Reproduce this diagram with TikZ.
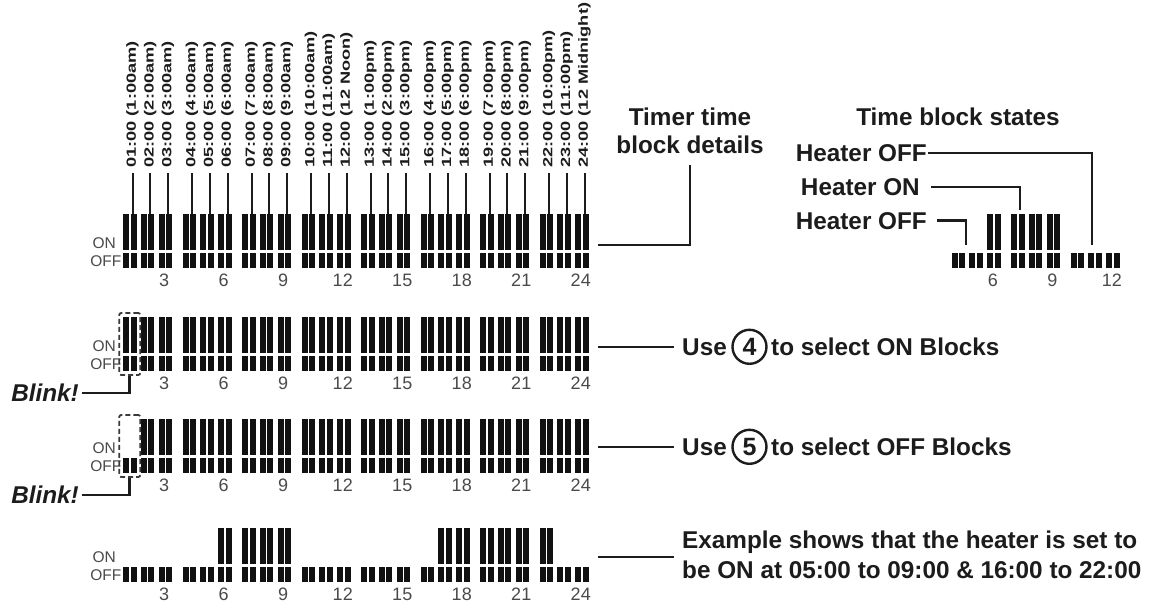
\documentclass[tikz,border=0pt]{standalone}
\usepackage{fontspec}
\setmainfont{Liberation Sans}
\usepackage{graphicx}
\usetikzlibrary{calc}
\definecolor{ink}{HTML}{1C1C1C}
\definecolor{barc}{HTML}{111111}
\definecolor{numc}{HTML}{4A4A4A}
\definecolor{boxc}{HTML}{3A3A3A}
\newcommand{\pairat}[3]{%
  \fill[barc] (#1,#2+39) rectangle ++(6,15);
  \fill[barc] (#1+7.5,#2+39) rectangle ++(6,15);
  \ifnum#3=1\relax
    \fill[barc] (#1,#2) rectangle ++(6,36);
    \fill[barc] (#1+7.5,#2) rectangle ++(6,36);
  \fi}
\begin{document}
\begin{tikzpicture}[x=1pt,y=-1pt,
  conn/.style={draw=ink,line width=2.6pt},
  tickline/.style={draw=ink,line width=2pt},
  tlabel/.style={rotate=90,anchor=west,inner sep=0pt,text=ink,font=\fontsize{13.3}{13}\selectfont\bfseries},
  big/.style={inner sep=0pt,text=ink,font=\fontsize{24.3}{28}\selectfont\bfseries},
  onoff/.style={inner sep=0pt,text=numc,font=\fontsize{15.5}{15}\selectfont,anchor=east},
  hnum/.style={inner sep=0pt,text=numc,font=\fontsize{18}{18}\selectfont},
  blinkbox/.style={draw=boxc,line width=1.8pt,dash pattern=on 5pt off 3pt,rounded corners=2pt,minimum width=21pt,minimum height=62pt,inner sep=0pt},
  circnum/.style={circle,draw=ink,line width=2.4pt,minimum size=34pt,inner sep=0pt,text=ink,font=\fontsize{25}{25}\selectfont\bfseries},
]
\fill[white] (0,0) rectangle (1153,605);
\useasboundingbox (0,0) rectangle (1153,605);

% main bar rows
\foreach \h in {1,...,24}{
  \pgfmathsetmacro\xs{123+59.5*floor((\h-1)/3)+17.75*mod(\h-1,3)}
  \pairat{\xs}{214}{1}
  \pairat{\xs}{317}{1}
  \pgfmathtruncatemacro\onc{\h>1}
  \pairat{\xs}{419}{\onc}
  \pgfmathtruncatemacro\ond{or(and(\h>5,\h<10),and(\h>16,\h<23))}
  \pairat{\xs}{528}{\ond}
}

% hour numbers
\foreach \g in {1,...,8}{
  \pgfmathsetmacro\nx{123+59.5*(\g-1)+41.25}
  \pgfmathtruncatemacro\lab{3*\g}
  \foreach \T/\r in {214/a,317/b,419/c,528/d}{
    \node[hnum] (n\r\lab) at (\nx,\T+66) {\lab};
  }
}

% ON / OFF labels
\foreach \T/\r in {214/a,317/b,419/c,528/d}{
  \node[onoff] (on\r) at (116,\T+29) {ON};
  \node[onoff] (off\r) at (121.5,\T+47.5) {OFF};
}

% time labels and ticks
\foreach \h/\t in {1/{01:00 (1:00am)},2/{02:00 (2:00am)},3/{03:00 (3:00am)},
  4/{04:00 (4:00am)},5/{05:00 (5:00am)},6/{06:00 (6:00am)},
  7/{07:00 (7:00am)},8/{08:00 (8:00am)},9/{09:00 (9:00am)},
  10/{10:00 (10:00am)},11/{11:00 (11:00am)},12/{12:00 (12 Noon)},
  13/{13:00 (1:00pm)},14/{14:00 (2:00pm)},15/{15:00 (3:00pm)},
  16/{16:00 (4:00pm)},17/{17:00 (5:00pm)},18/{18:00 (6:00pm)},
  19/{19:00 (7:00pm)},20/{20:00 (8:00pm)},21/{21:00 (9:00pm)},
  22/{22:00 (10:00pm)},23/{23:00 (11:00pm)},24/{24:00 (12 Midnight)}}{
  \pgfmathsetmacro\tx{123+59.5*floor((\h-1)/3)+17.75*mod(\h-1,3)+9.5}
  \node[tlabel] (tl\h) at (\tx,168) {\scalebox{1.37}[1]{\t}};
  \draw[tickline] ([yshift=-5pt]tl\h.west) -- ++(0,41);
}

% Timer time block details
\node[big,align=center,anchor=south] (ttbd) at (690,153.5) {Timer time\\block details};
\coordinate (r1e) at (598,245);
\draw[conn] (r1e) -| ([yshift=-11pt]ttbd.south);

% Time block states panel
\node[big,anchor=base] (tbs) at (958,125.5) {Time block states};
\node[big,anchor=base east] (hoff1) at (927,161.5) {Heater OFF};
\node[big,anchor=base east] (hon) at (920,195.3) {Heater ON};
\node[big,anchor=base east] (hoff2) at (927,229) {Heater OFF};
\foreach \h in {4,...,12}{
  \pgfmathsetmacro\xs{892+59.5*floor((\h-1)/3)+17.75*mod(\h-1,3)}
  \pgfmathtruncatemacro\on{and(\h>5,\h<10)}
  \pairat{\xs}{214}{\on}
}
\foreach \g in {2,3,4}{
  \pgfmathsetmacro\nx{892+59.5*(\g-1)+41.25}
  \pgfmathtruncatemacro\lab{3*\g}
  \node[hnum] (sn\lab) at (\nx,280) {\lab};
}
\coordinate (s1) at (1092,245);
\coordinate (s2) at (1020,210);
\coordinate (s3) at (966,245);
\draw[conn] ([xshift=1pt]hoff1.east) -| (s1);
\draw[conn] ([xshift=11pt]hon.east) -| (s2);
\draw[conn] ([xshift=10pt]hoff2.east) -| (s3);

% Blink boxes
\node[blinkbox] (box2) at (129.75,344) {};
\node[blinkbox] (box3) at (129.75,446) {};
\node[big,anchor=east,font=\fontsize{24.3}{28}\selectfont\bfseries\itshape] (blink2) at (79,393) {Blink!};
\node[big,anchor=east,font=\fontsize{24.3}{28}\selectfont\bfseries\itshape] (blink3) at (79,495) {Blink!};
\draw[conn] ([xshift=3pt]blink2.east) -| (box2.south);
\draw[conn] ([xshift=3pt]blink3.east) -| (box3.south);

% Row 2 text
\node[big,anchor=base west] (use2) at (682,355.6) {Use};
\node[circnum] (c4) at ($(use2.base east)+(22.5,-8.8)$) {4};
\node[big,anchor=base west] (sel2) at ($(use2.base east)+(44,0)$) {to select ON Blocks};
\coordinate (r2e) at (598,347);
\draw[conn,shorten >=8pt] (r2e) -- (r2e -| use2.west);

% Row 3 text
\node[big,anchor=base west] (use3) at (682,455.6) {Use};
\node[circnum] (c5) at ($(use3.base east)+(22.5,-8.8)$) {5};
\node[big,anchor=base west] (sel3) at ($(use3.base east)+(44,0)$) {to select OFF Blocks};
\coordinate (r3e) at (598,447);
\draw[conn,shorten >=8pt] (r3e) -- (r3e -| use3.west);

% Row 4 text
\node[big,anchor=base west] (ex1) at (682,548.5) {Example shows that the heater is set to};
\node[big,anchor=base west] (ex2) at (682,578.5) {be ON at 05:00 to 09:00 \& 16:00 to 22:00};
\coordinate (r4e) at (598,557);
\draw[conn,shorten >=8pt] (r4e) -- (r4e -| ex1.west);
\end{tikzpicture}
\end{document}
